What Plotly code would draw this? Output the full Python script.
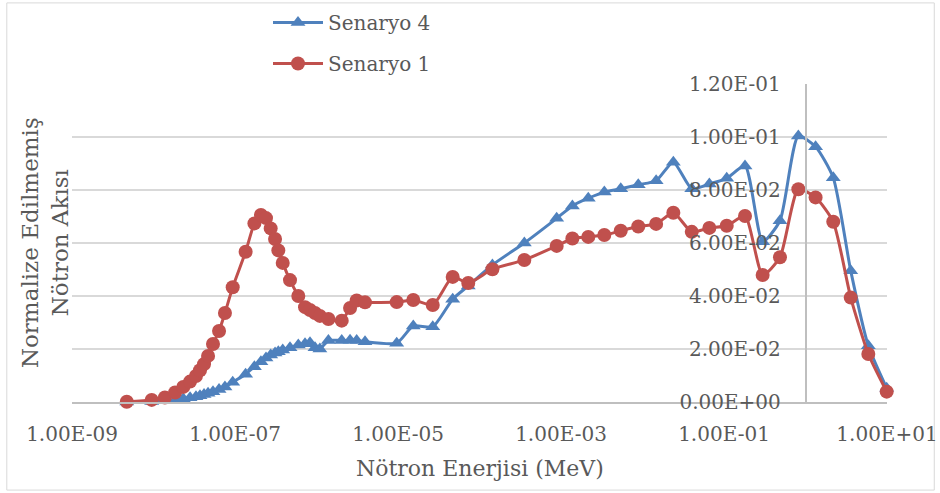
import plotly.graph_objects as go

energy_mev = [4.7e-9, 9.5e-9, 1.38e-8, 1.84e-8, 2.32e-8, 2.81e-8, 3.32e-8, 3.72e-8, 4.17e-8, 4.67e-8,
              5.37e-8, 6.37e-8, 7.53e-8, 9.37e-8, 1.35e-7, 1.73e-7, 2.08e-7, 2.40e-7, 2.74e-7, 3.10e-7,
              3.40e-7, 3.85e-7, 4.73e-7, 5.98e-7, 7.23e-7, 8.32e-7, 9.59e-7, 1.10e-6, 1.40e-6, 2.04e-6,
              2.58e-6, 3.11e-6, 3.94e-6, 9.64e-6, 1.54e-5, 2.67e-5, 4.69e-5, 7.28e-5, 1.44e-4, 3.55e-4,
              8.85e-4, 1.38e-3, 2.16e-3, 3.40e-3, 5.41e-3, 8.87e-3, 1.47e-2, 2.39e-2, 4.02e-2, 6.61e-2,
              0.108, 0.181, 0.298, 0.486, 0.817, 1.33, 2.19, 3.59, 5.90, 9.91]

senaryo_4 = [0.0, 0.0002, 0.0005, 0.0008, 0.0012, 0.0016, 0.0020, 0.0024, 0.0028, 0.0033,
             0.0039, 0.0047, 0.0057, 0.0075, 0.0105, 0.0133, 0.0152, 0.0166, 0.0177, 0.0185,
             0.0190, 0.0196, 0.0205, 0.0215, 0.0220, 0.0224, 0.0205, 0.0200, 0.0232, 0.0232,
             0.0233, 0.0232, 0.0227, 0.0222, 0.0287, 0.0284, 0.0388, 0.0438, 0.0517, 0.0600,
             0.0693, 0.0740, 0.0769, 0.0792, 0.0805, 0.0820, 0.0835, 0.0905, 0.0805, 0.0823,
             0.0844, 0.0891, 0.0605, 0.0684, 0.1004, 0.0963, 0.0846, 0.0495, 0.0212, 0.0052]

senaryo_1 = [0.0001, 0.0008, 0.0017, 0.0036, 0.0057, 0.0077, 0.0098, 0.0120, 0.0143, 0.0174,
             0.0219, 0.0268, 0.0336, 0.0433, 0.0567, 0.0674, 0.0706, 0.0694, 0.0655, 0.0615,
             0.0572, 0.0525, 0.0460, 0.0400, 0.0358, 0.0347, 0.0336, 0.0325, 0.0313, 0.0307,
             0.0355, 0.0383, 0.0376, 0.0377, 0.0385, 0.0366, 0.0472, 0.0449, 0.0501, 0.0536,
             0.0589, 0.0617, 0.0623, 0.0630, 0.0646, 0.0662, 0.0672, 0.0714, 0.0642, 0.0657,
             0.0665, 0.0702, 0.0479, 0.0546, 0.0803, 0.0772, 0.0680, 0.0394, 0.0181, 0.0039]

x_tick_vals = [1e-9, 1e-7, 1e-5, 1e-3, 1e-1, 1e1]
x_tick_text = ["1.00E-09", "1.00E-07", "1.00E-05", "1.00E-03", "1.00E-01", "1.00E+01"]
y_tick_vals = [0, 0.02, 0.04, 0.06, 0.08, 0.10, 0.12]
y_tick_text = ["0.00E+00", "2.00E-02", "4.00E-02", "6.00E-02", "8.00E-02", "1.00E-01", "1.20E-01"]

FONT = "DejaVu Serif"
TXT = "#595959"
BLUE = "#4F81BD"
RED = "#C0504D"

fig = go.Figure()
fig.add_trace(go.Scatter(
    x=energy_mev, y=senaryo_4, name="Senaryo 4", mode="lines+markers", legendgroup="g4",
    line=dict(color=BLUE, width=3, shape="spline", smoothing=0.6),
    marker=dict(symbol="triangle-up", size=13, color=BLUE),
    cliponaxis=False))
fig.add_trace(go.Scatter(
    x=energy_mev, y=senaryo_1, name="Senaryo 1", mode="lines+markers", legendgroup="g1",
    line=dict(color=RED, width=3, shape="spline", smoothing=0.6),
    marker=dict(symbol="circle", size=14, color=RED),
    cliponaxis=False))

fig.update_layout(
    width=940, height=493,
    margin=dict(l=72, r=53, t=84, b=91, autoexpand=False),
    paper_bgcolor="white", plot_bgcolor="white",
    font=dict(family=FONT, size=20, color=TXT),
    showlegend=True,
    legend=dict(xref="container", yref="container", x=268 / 940, y=1 - 3 / 493,
                xanchor="left", yanchor="top",
                font=dict(family=FONT, size=20, color=TXT),
                bgcolor="rgba(0,0,0,0)", tracegroupgap=12, traceorder="grouped",
                itemwidth=50),
    xaxis=dict(type="log", range=[-9, 1], tickvals=x_tick_vals, ticktext=x_tick_text,
               showgrid=False, zeroline=False, showline=True, linecolor="#BFBFBF", linewidth=1.5,
               ticks="", ticklabelstandoff=13, automargin=False,
               tickfont=dict(family=FONT, size=20, color=TXT)),
    yaxis=dict(range=[0, 0.12], tickvals=y_tick_vals, ticktext=y_tick_text,
               anchor="free", position=0.9, side="left", automargin=False,
               showgrid=True, gridcolor="#D9D9D9", gridwidth=1.5, zeroline=False,
               showline=True, linecolor="#BFBFBF", linewidth=1.5,
               ticks="", ticklabelstandoff=20,
               tickfont=dict(family=FONT, size=20, color=TXT)),
    annotations=[
        dict(text="Nötron Enerjisi (MeV)", xref="paper", yref="paper", x=0.5, y=-0.208,
             xanchor="center", yanchor="middle", showarrow=False,
             font=dict(family=FONT, size=22, color=TXT)),
        dict(text="Normalize Edilmemiş<br>Nötron Akısı", xref="paper", yref="paper",
             x=-0.033, y=0.5, xanchor="center", yanchor="middle", textangle=-90,
             showarrow=False, font=dict(family=FONT, size=23, color=TXT)),
    ],
    shapes=[dict(type="rect", xref="paper", yref="paper",
                 x0=-0.08, x1=1.058, y0=-0.277, y1=1.255,
                 line=dict(color="#D9D9D9", width=1), fillcolor="rgba(0,0,0,0)", layer="below")],
)

fig.write_html("out.html", config={"displayModeBar": False},
               post_script="document.body.style.margin='0';")
